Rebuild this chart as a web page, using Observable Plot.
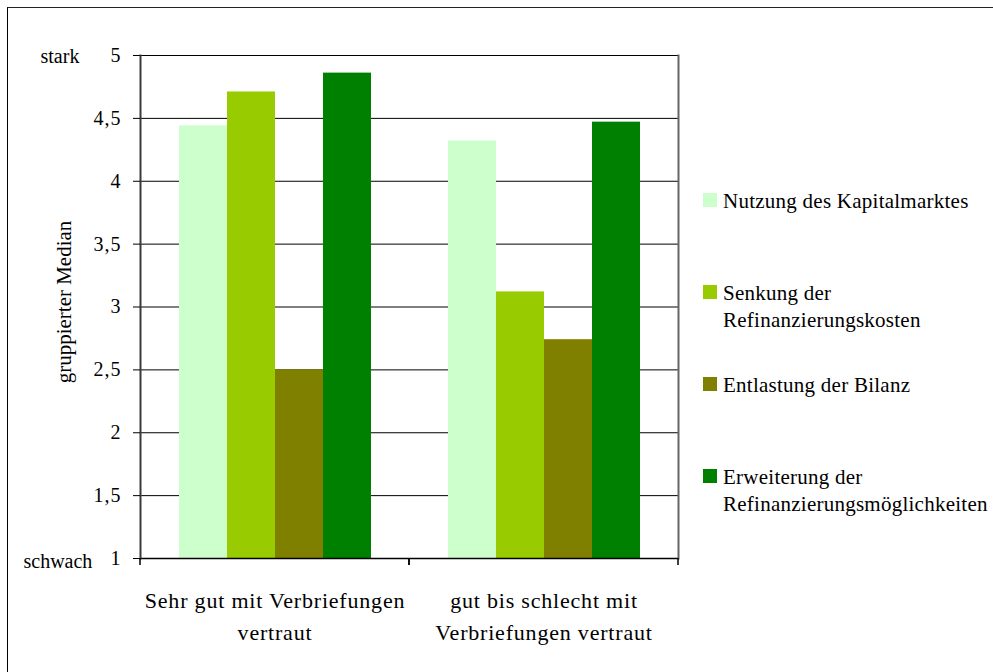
<!DOCTYPE html>
<html>
<head>
<meta charset="utf-8">
<script src="https://cdn.jsdelivr.net/npm/d3@7"></script>
<script src="https://cdn.jsdelivr.net/npm/@observablehq/plot@0.6"></script>
<style>
  html, body { margin: 0; padding: 0; background: #fff; }
  #wrap { position: relative; width: 993px; height: 672px; overflow: hidden;
          font-family: "Liberation Serif", "DejaVu Serif"; color: #000; }
  #border { position: absolute; left: 7px; top: 7px; right: -20px; bottom: -20px;
            border-left: 1.5px solid #000; border-top: 1.5px solid #222; pointer-events: none; }
  #chart { position: absolute; left: 0; top: 0; }
  #chart svg, #chart svg text { font-family: "Liberation Serif", "DejaVu Serif"; }
  #legend { position: absolute; left: 703px; top: 188px; }
  .item { position: relative; height: 92px; width: 285px; font-size: 21px; line-height: 27px; letter-spacing: 0.25px; }
  .sw { position: absolute; left: 0; top: 5px; width: 14px; height: 14px; }
  .lab { position: absolute; left: 20px; top: 0; white-space: pre; }
  .fx-labels text { letter-spacing: 0.8px; }
  .y-labels text { letter-spacing: 1px; }
</style>
</head>
<body>
<div id="wrap">
  <div id="chart"></div>
  <div id="legend"></div>
  <div id="border"></div>
</div>
<script>
// Groups (respondents by familiarity with securitisation) and motives
const groups = ["Sehr gut mit Verbriefungen vertraut", "gut bis schlecht mit Verbriefungen vertraut"];
const groupTickLabels = ["Sehr gut mit Verbriefungen\nvertraut", "gut bis schlecht mit\nVerbriefungen vertraut"];
const series = [
  "Nutzung des Kapitalmarktes",
  "Senkung der Refinanzierungskosten",
  "Entlastung der Bilanz",
  "Erweiterung der Refinanzierungsmöglichkeiten"
];
const legendLabels = [
  "Nutzung des Kapitalmarktes",
  "Senkung der\nRefinanzierungskosten",
  "Entlastung der Bilanz",
  "Erweiterung der\nRefinanzierungsmöglichkeiten"
];
const colors = ["#CCFFCC", "#99CC00", "#808000", "#008000"];

// Grouped medians per motive
const valuesSehrGut = [4.44, 4.71, 2.50, 4.86];
const valuesGutBisSchlecht = [4.32, 3.12, 2.74, 4.47];

const yTicks = [1, 1.5, 2, 2.5, 3, 3.5, 4, 4.5, 5];
const yLabel = "gruppierter Median";
const yLow = "schwach";
const yHigh = "stark";

const data = [];
[valuesSehrGut, valuesGutBisSchlecht].forEach((vals, gi) => {
  vals.forEach((v, si) => data.push({group: groups[gi], series: series[si], value: v}));
});

const fmt = d => String(d).replace(".", ",");
const font = "'Liberation Serif', 'DejaVu Serif'";

// Small downward ticks at each group boundary on the category axis
function boundaryTicks(index, scales, values, dimensions) {
  const {marginLeft, marginRight, marginBottom, width, height} = dimensions;
  const y0 = height - marginBottom;
  const g = d3.create("svg:g").attr("stroke", "#000").attr("stroke-width", 1.5);
  for (const x of [marginLeft, width - marginRight]) {
    g.append("line").attr("x1", x).attr("x2", x).attr("y1", y0).attr("y2", y0 + 7);
  }
  return g.node();
}

const chart = Plot.plot({
  width: 993,
  height: 672,
  marginTop: 55,
  marginBottom: 114,
  marginLeft: 140,
  marginRight: 315,
  style: {fontFamily: font, color: "#000", background: "transparent", overflow: "visible"},
  fx: {domain: groups, padding: 0, axis: null, label: null},
  x: {domain: series, paddingInner: 0, paddingOuter: 0.745, axis: null},
  y: {domain: [1, 5], axis: null},
  color: {domain: series, range: colors},
  marks: [
    Plot.ruleY(yTicks.slice(1), {stroke: "#000", strokeWidth: 1}),
    Plot.barY(data, {fx: "group", x: "series", y1: yTicks[0], y2: "value", fill: "series"}),
    Plot.ruleY([yTicks[0]], {stroke: "#000", strokeWidth: 1.5}),
    Plot.frame({anchor: "left", facetAnchor: "left", stroke: "#3a3a3a", strokeWidth: 2}),
    Plot.frame({anchor: "right", facetAnchor: "right", stroke: "#666", strokeWidth: 2}),
    boundaryTicks,
    Plot.axisY({
      ticks: yTicks, tickFormat: fmt, tickSize: 7, tickPadding: 12,
      fontSize: 20, label: null, stroke: "#000", className: "y-labels"
    }),
    Plot.axisFx({
      anchor: "bottom", tickSize: 0, tickPadding: 27, fontSize: 22, lineHeight: 1.45,
      tickFormat: d => groupTickLabels[groups.indexOf(d)], label: null, className: "fx-labels"
    }),
    Plot.text([yHigh], {
      y: [yTicks[yTicks.length - 1]], text: d => d, frameAnchor: "left", facetAnchor: "left",
      textAnchor: "start", dx: -100, dy: 1, fontSize: 20
    }),
    Plot.text([yLow], {
      y: [yTicks[0]], text: d => d, frameAnchor: "left", facetAnchor: "left",
      textAnchor: "start", dx: -117, dy: 3, fontSize: 20
    }),
    Plot.text([yLabel], {
      text: d => d, frameAnchor: "left", facetAnchor: "left", rotate: -90,
      textAnchor: "middle", lineAnchor: "bottom", dx: -70, dy: -5, fontSize: 21
    })
  ]
});
document.getElementById("chart").appendChild(chart);

// Legend
const legend = d3.select("#legend");
series.forEach((s, i) => {
  const item = legend.append("div").attr("class", "item");
  item.append("div").attr("class", "sw").style("background", colors[i]);
  item.append("div").attr("class", "lab").text(legendLabels[i]);
});
</script>
</body>
</html>
